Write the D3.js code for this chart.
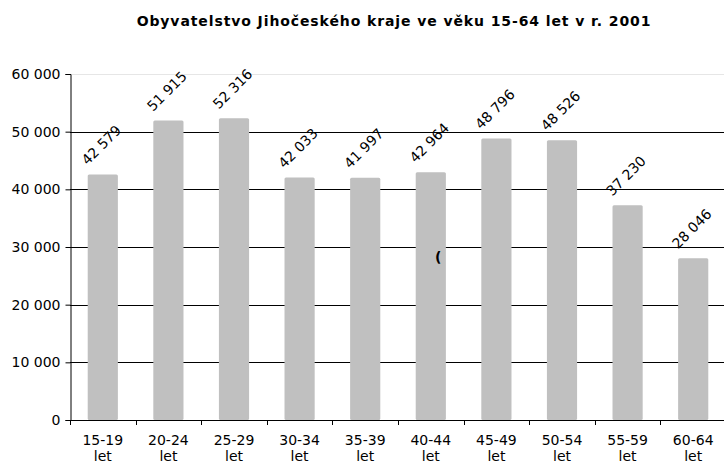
<!DOCTYPE html>
<html><head><meta charset="utf-8">
<script src="https://cdn.jsdelivr.net/npm/d3@7"></script>
<style>body{margin:0;background:#fff}svg{display:block}text{font-family:"DejaVu Sans",Verdana,sans-serif;fill:#000}</style>
</head><body>
<svg id="c" width="724" height="463"></svg>
<script>
const categories = ["15-19 let","20-24 let","25-29 let","30-34 let","35-39 let","40-44 let","45-49 let","50-54 let","55-59 let","60-64 let"];
const values = [42579, 51915, 52316, 42033, 41997, 42964, 48796, 48526, 37230, 28046];
const yTicks = [0, 10000, 20000, 30000, 40000, 50000, 60000];
const title = "Obyvatelstvo Jihočeského kraje ve věku 15-64 let v r. 2001";

(function () {
const svg = d3.select("#c");
const pL = 70, pR = 726, pT = 74, pB = 420;
const x = d3.scaleBand().domain(categories).range([pL, pR]).paddingInner(0.54).paddingOuter(0.27);
const y = d3.scaleLinear().domain([0, 60000]).range([pB, pT]);
const fmt = v => d3.format(",")(v).replace(/,/g, " ");

svg.append("text").attr("x", 394).attr("y", 26).attr("text-anchor", "middle")
  .style("font-weight", "bold").style("font-size", "14px").style("letter-spacing", "0.9px").text(title);

// gridlines
svg.append("g").selectAll("line").data(yTicks.filter(d => d > 0)).join("line")
  .attr("x1", pL).attr("x2", 724).attr("y1", d => Math.round(y(d)) + 0.5).attr("y2", d => Math.round(y(d)) + 0.5)
  .attr("stroke", d => d === 60000 ? "#e6e6e6" : "#000").attr("stroke-width", 1);

// bars
svg.append("g").selectAll("rect").data(values).join("rect")
  .attr("x", (d, i) => x(categories[i])).attr("width", x.bandwidth())
  .attr("y", d => y(d)).attr("height", d => pB - y(d))
  .attr("rx", 1.5).attr("fill", "#c0c0c0");

// y axis
const yAxis = svg.append("g").attr("transform", `translate(${pL + 0.5},0)`)
  .call(d3.axisLeft(y).tickValues(yTicks).tickFormat(fmt).tickSize(5).tickPadding(5));
yAxis.selectAll("text").style("font-size", "14px").style("font-family", '"DejaVu Sans",Verdana,sans-serif');
yAxis.select(".domain").attr("stroke", "#000");

// x axis line and ticks at category boundaries
svg.append("line").attr("x1", pL).attr("x2", 724).attr("y1", pB + 0.5).attr("y2", pB + 0.5).attr("stroke", "#000");
const b0 = [pL].concat(categories.slice(1).map((c, i) => pL + x.step() * (i + 1)));
svg.append("g").selectAll("line").data(b0).join("line")
  .attr("x1", d => Math.round(d) + 0.5).attr("x2", d => Math.round(d) + 0.5)
  .attr("y1", pB).attr("y2", pB + 5).attr("stroke", "#000");

// x labels
const xl = svg.append("g").selectAll("text").data(categories).join("text")
  .attr("text-anchor", "middle").style("font-size", "14px")
  .attr("transform", c => `translate(${x(c) + x.bandwidth() / 2},0)`);
xl.append("tspan").attr("x", 0).attr("y", 445).text(c => c.split(" ")[0]);
xl.append("tspan").attr("x", 0).attr("y", 461).text(c => c.split(" ")[1]);

// value labels
svg.append("g").selectAll("text").data(values).join("text")
  .attr("text-anchor", "middle").style("font-size", "14px")
  .attr("transform", (d, i) => `translate(${x(categories[i]) + x.bandwidth() / 2 + 2},${y(d) - 26}) rotate(-45)`)
  .text(fmt);

// stray glyph present in the original
svg.append("text").attr("x", 435).attr("y", 262).style("font-size", "14px").style("font-weight", "bold").text("(");
})();
</script>
</body></html>
